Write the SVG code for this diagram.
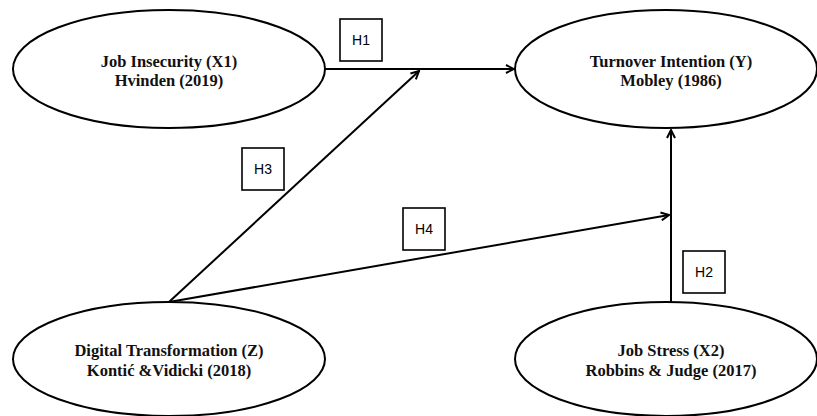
<svg xmlns="http://www.w3.org/2000/svg" width="817" height="416" viewBox="0 0 817 416">
<style>
.node ellipse{fill:#fff;stroke:#000;stroke-width:2}
.t{font-family:"Liberation Serif","Times New Roman",serif;font-weight:bold;font-size:16.5px;text-anchor:middle;fill:#111}
.lbl rect{fill:#fff;stroke:#000;stroke-width:1.6}
.lbl text{font-family:"Liberation Sans",Arial,sans-serif;font-size:14px;text-anchor:middle;fill:#000}
.edge{stroke:#000;stroke-width:2;fill:none;marker-end:url(#ah)}
</style>
<defs>
<marker id="ah" viewBox="0 0 10 10" refX="9" refY="5" markerWidth="5" markerHeight="5" orient="auto" markerUnits="strokeWidth">
<path d="M1,1 L9,5 L1,9" fill="none" stroke="#000" stroke-width="2"/>
</marker>
</defs>
<rect width="817" height="416" fill="#fff"/>
<g id="connectors">
<line class="edge" x1="325" y1="69" x2="514" y2="69"/>
<line class="edge" x1="169" y1="302" x2="419" y2="71"/>
<line class="edge" x1="169" y1="302" x2="669" y2="215"/>
<line class="edge" x1="671" y1="302" x2="671" y2="130"/>
</g>
<g id="node-x1" class="node">
<ellipse cx="169" cy="69" rx="156" ry="59"/>
<text class="t" x="169" y="67">Job Insecurity (X1)</text>
<text class="t" x="169" y="86">Hvinden (2019)</text>
</g>
<g id="node-y" class="node">
<ellipse cx="666" cy="69" rx="151" ry="59"/>
<text class="t" x="671" y="67">Turnover Intention (Y)</text>
<text class="t" x="671" y="86">Mobley (1986)</text>
</g>
<g id="node-z" class="node">
<ellipse cx="169" cy="359" rx="156" ry="57"/>
<text class="t" x="169" y="356">Digital Transformation (Z)</text>
<text class="t" x="169" y="376">Kontić &amp;Vidicki (2018)</text>
</g>
<g id="node-x2" class="node">
<ellipse cx="666" cy="359" rx="151" ry="57"/>
<text class="t" x="671" y="356">Job Stress (X2)</text>
<text class="t" x="671" y="376">Robbins &amp; Judge (2017)</text>
</g>
<g id="label-h1" class="lbl"><rect x="340" y="19" width="42" height="42"/><text x="361" y="45">H1</text></g>
<g id="label-h3" class="lbl"><rect x="242" y="148" width="42" height="42"/><text x="263" y="174">H3</text></g>
<g id="label-h4" class="lbl"><rect x="403" y="208" width="42" height="42"/><text x="424" y="234">H4</text></g>
<g id="label-h2" class="lbl"><rect x="683" y="251" width="42" height="42"/><text x="704" y="277">H2</text></g>
</svg>
